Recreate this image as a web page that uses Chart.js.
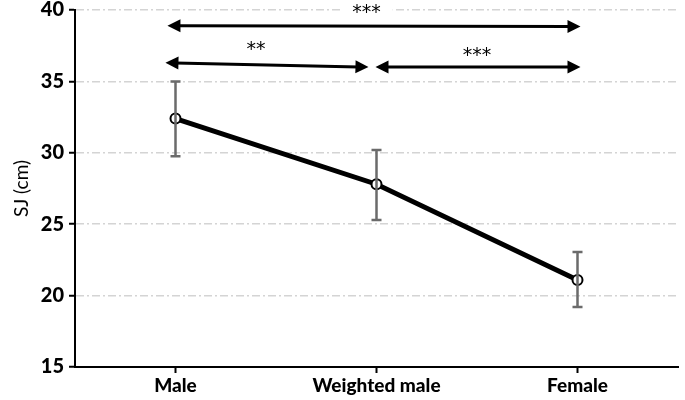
<!DOCTYPE html>
<html>
<head>
<meta charset="utf-8">
<script src="https://cdn.jsdelivr.net/npm/chart.js@4/dist/chart.umd.min.js"></script>
<style>
  html, body { margin: 0; padding: 0; background: #fff; }
  #wrap { width: 685px; height: 400px; }
</style>
</head>
<body>
<div id="wrap"><canvas id="chart" width="685" height="400"></canvas></div>
<script>
// ==================== DATA ====================
const categories = ['Male', 'Weighted male', 'Female'];
const sjMean = [32.4, 27.8, 21.1];
const sjLow = [29.75, 25.3, 19.2];
const sjHigh = [35.0, 30.2, 23.05];
const yTicks = [15, 20, 25, 30, 35, 40];

// significance arrows (x as category index, y in cm)
const sigFrom = [-0.04, -0.05, 0.995];
const sigTo = [2.015, 0.96, 2.015];
const sigYStart = [38.9, 36.3, 36.0];
const sigYEnd = [38.85, 36.0, 36.0];
const sigLabel = ['***', '**', '***'];
const sigLabelX = [0.95, 0.40, 1.50];
const sigLabelY = [40.2, 37.6, 37.2];

const FONT = 'Lato, "Open Sans", sans-serif';

// ==================== PLUGINS ====================
const errorBars = {
  id: 'errorBars',
  afterDatasetsDraw(chart) {
    const { ctx, scales: { x, y } } = chart;
    ctx.save();
    ctx.strokeStyle = '#6b6b6b';
    ctx.lineWidth = 2.5;
    sjMean.forEach((m, i) => {
      const px = x.getPixelForValue(i);
      const top = y.getPixelForValue(sjHigh[i]);
      const bot = y.getPixelForValue(sjLow[i]);
      ctx.beginPath();
      ctx.moveTo(px, top); ctx.lineTo(px, bot);
      ctx.moveTo(px - 5, top); ctx.lineTo(px + 5, top);
      ctx.moveTo(px - 5, bot); ctx.lineTo(px + 5, bot);
      ctx.stroke();
    });
    ctx.restore();
  }
};

function arrowHead(ctx, x1, y1, x2, y2) {
  // head at (x2, y2) pointing away from (x1, y1)
  const a = Math.atan2(y2 - y1, x2 - x1);
  const len = 13, half = 6.5;
  ctx.beginPath();
  ctx.moveTo(x2, y2);
  ctx.lineTo(x2 - len * Math.cos(a) + half * Math.sin(a), y2 - len * Math.sin(a) - half * Math.cos(a));
  ctx.lineTo(x2 - len * Math.cos(a) - half * Math.sin(a), y2 - len * Math.sin(a) + half * Math.cos(a));
  ctx.closePath();
  ctx.fill();
}

const sigArrows = {
  id: 'sigArrows',
  afterDraw(chart) {
    const { ctx, scales: { x, y } } = chart;
    ctx.save();
    ctx.strokeStyle = '#000';
    ctx.fillStyle = '#000';
    ctx.lineWidth = 3;
    sigLabel.forEach((lab, i) => {
      const x1 = x.getPixelForValue(sigFrom[i]);
      const x2 = x.getPixelForValue(sigTo[i]);
      const y1 = y.getPixelForValue(sigYStart[i]);
      const y2 = y.getPixelForValue(sigYEnd[i]);
      const a = Math.atan2(y2 - y1, x2 - x1);
      ctx.beginPath();
      ctx.moveTo(x1 + 10 * Math.cos(a), y1 + 10 * Math.sin(a));
      ctx.lineTo(x2 - 10 * Math.cos(a), y2 - 10 * Math.sin(a));
      ctx.stroke();
      arrowHead(ctx, x2, y2, x1, y1);
      arrowHead(ctx, x1, y1, x2, y2);

      // label with a white box so grid lines break behind it
      const lx = x.getPixelForValue(sigLabelX[i]);
      const ly = y.getPixelForValue(sigLabelY[i]);
      ctx.font = '19px "DejaVu Sans", sans-serif';
      const w = ctx.measureText(lab).width;
      ctx.fillStyle = '#fff';
      ctx.fillRect(lx - w / 2 - 12, ly - 7, w + 24, 14);
      ctx.fillStyle = '#000';
      ctx.textAlign = 'center';
      ctx.textBaseline = 'alphabetic';
      // asterisks sit high in the em box, so put the baseline below the glyph centre
      ctx.fillText(lab, lx, ly + 11);
    });
    ctx.restore();
  }
};

// ==================== CHART ====================
new Chart(document.getElementById('chart'), {
  type: 'line',
  data: {
    labels: categories,
    datasets: [{
      data: sjMean,
      borderColor: '#000',
      borderWidth: 5,
      pointRadius: 5,
      pointBorderWidth: 2,
      pointBackgroundColor: '#fff',
      pointBorderColor: '#000',
      tension: 0
    }]
  },
  options: {
    responsive: false,
    animation: false,
    layout: { padding: { top: 10, right: 3, left: 0, bottom: 0 } },
    plugins: {
      legend: { display: false },
      tooltip: { enabled: false }
    },
    scales: {
      x: {
        offset: true,
        grid: {
          drawOnChartArea: false,
          drawTicks: true,
          tickLength: 6,
          tickColor: '#000',
          tickWidth: 2
        },
        border: { color: '#000', width: 2 },
        ticks: {
          color: '#000',
          padding: 1,
          font: { family: FONT, size: 19, weight: 900 }
        },
        afterFit: s => { s.height = 33; }
      },
      y: {
        min: 15,
        max: 40,
        afterBuildTicks: s => { s.ticks = yTicks.map(v => ({ value: v })); },
        grid: {
          color: ctx => ctx.tick && ctx.tick.value === 15 ? 'rgba(0,0,0,0)' : '#d4d4d4',
          lineWidth: 1.5,
          drawTicks: true,
          tickLength: 6,
          tickColor: '#000',
          tickWidth: 2,
          tickBorderDash: []
        },
        border: { color: '#000', width: 2, dash: [8, 3, 2, 3] },
        ticks: {
          color: '#000',
          padding: 5,
          font: { family: FONT, size: 20, weight: 900 }
        },
        title: {
          display: true,
          text: 'SJ (cm)',
          color: '#000',
          padding: { top: 10, bottom: 0 },
          font: { family: FONT, size: 19 }
        },
        afterFit: s => { s.width = 75; s.paddingTop = 0; s.paddingBottom = 0; }
      }
    }
  },
  plugins: [errorBars, sigArrows]
});
</script>
</body>
</html>
